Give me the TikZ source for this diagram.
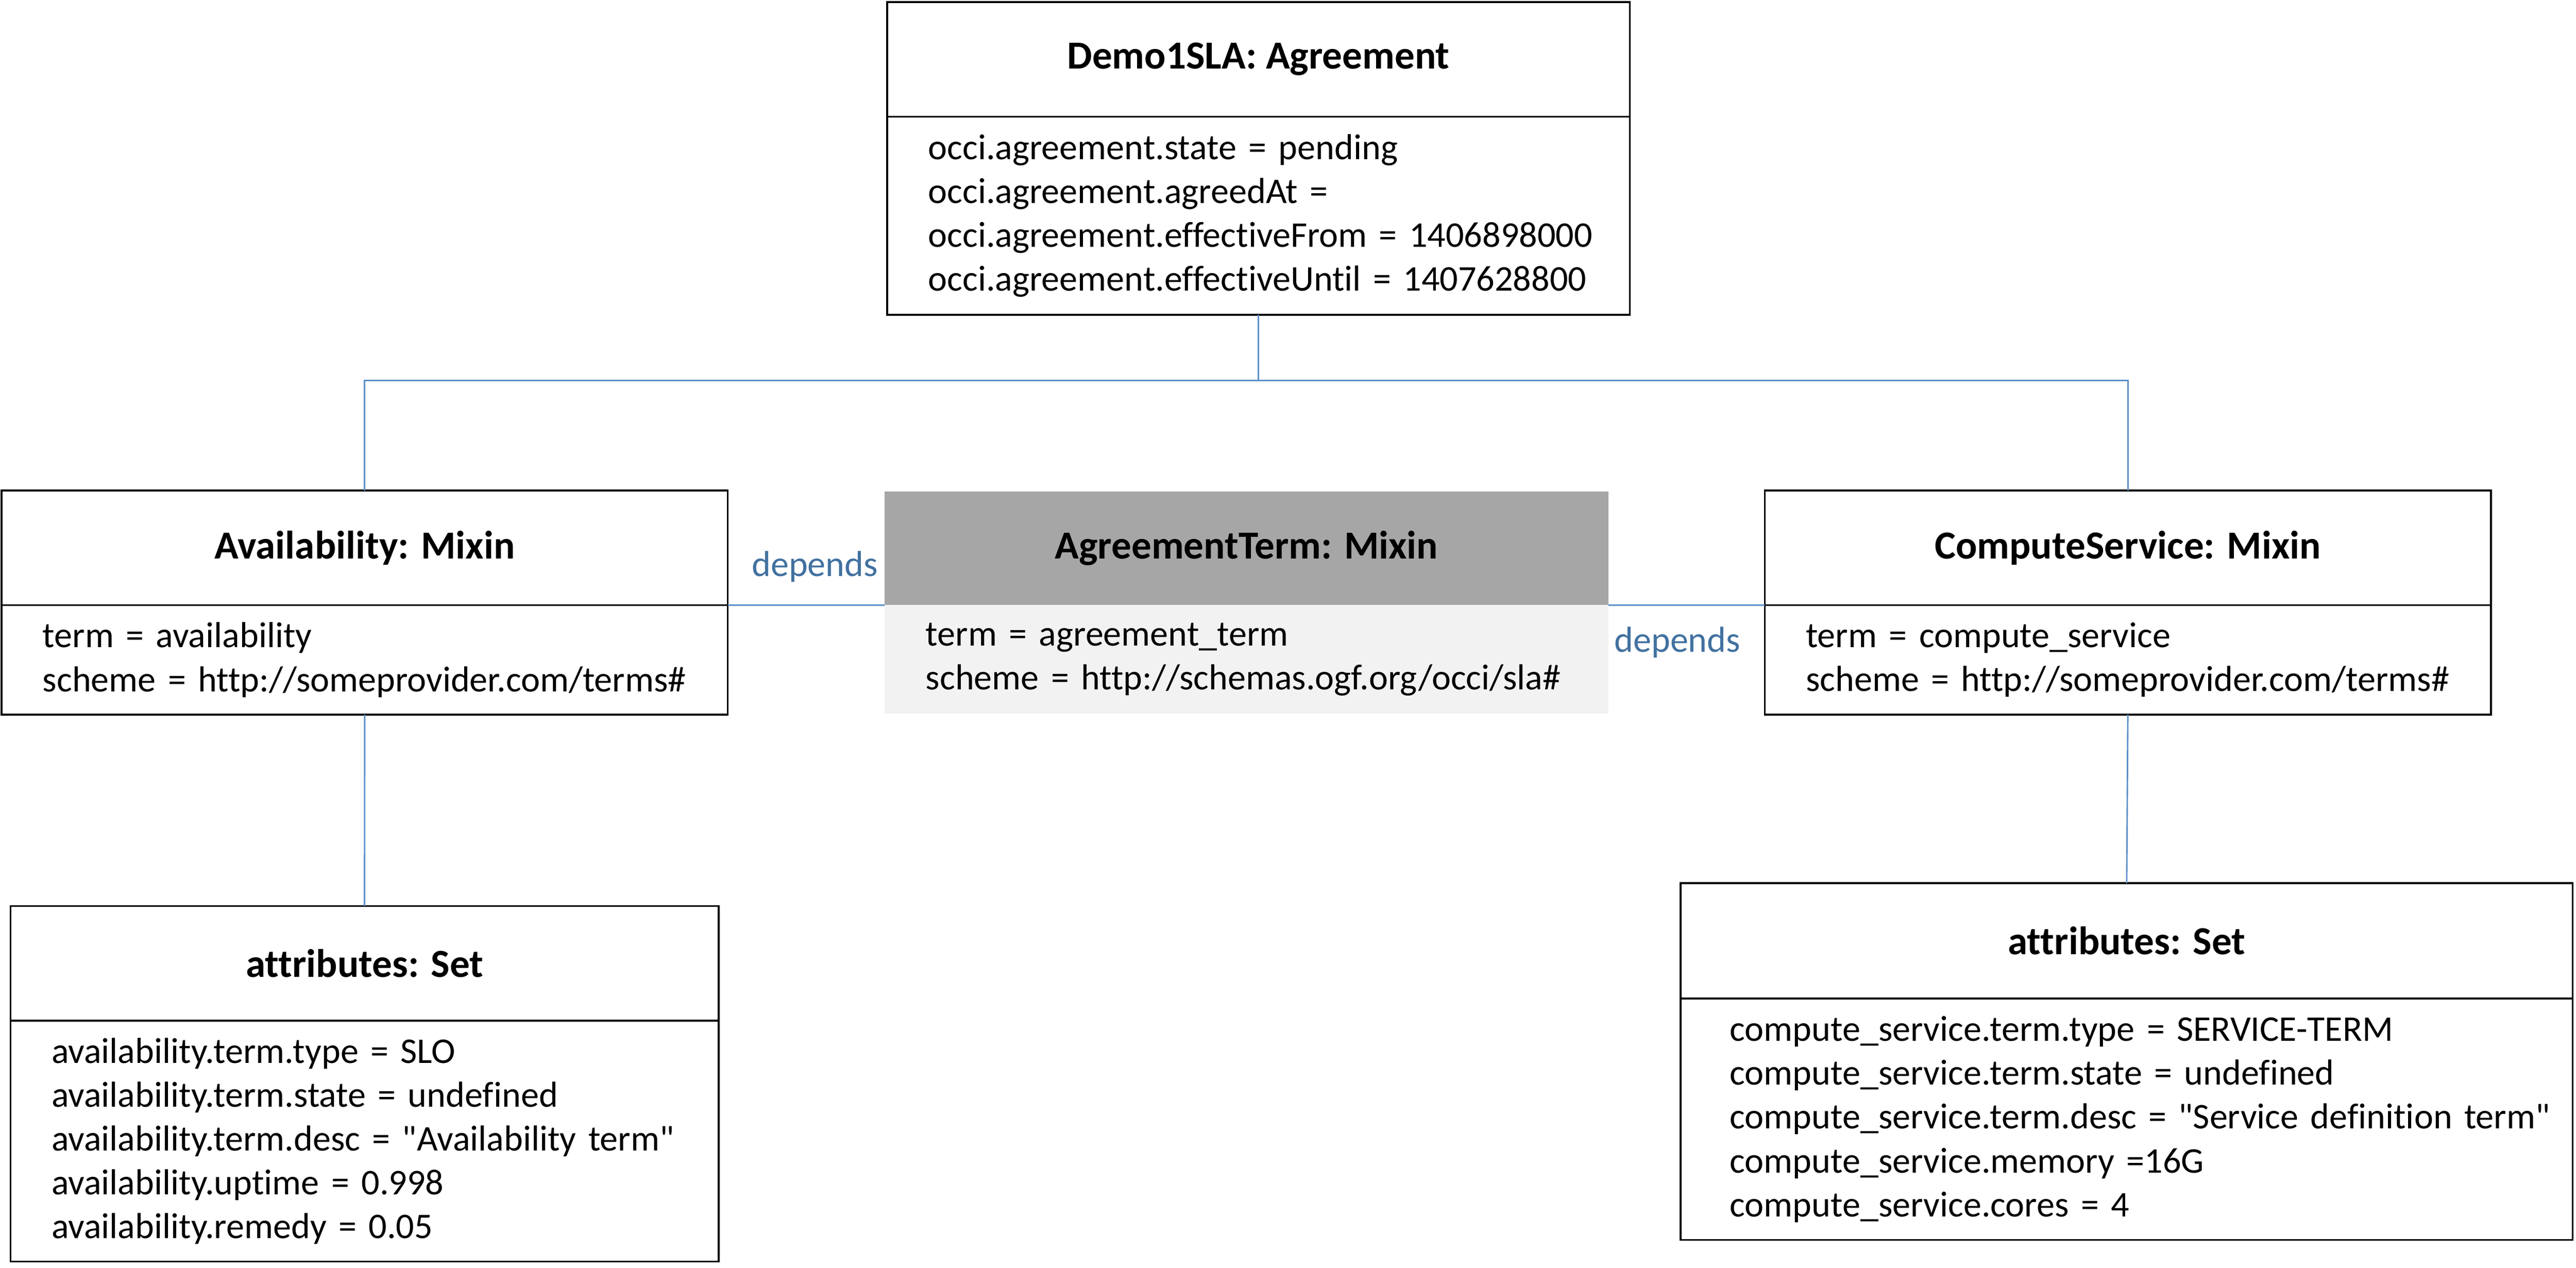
\documentclass[tikz,border=0pt]{standalone}
\usepackage{fontspec}
\setmainfont{Carlito}[Ligatures={TeX,NoCommon}]
\definecolor{linkblue}{RGB}{91,143,201}
\definecolor{labelblue}{RGB}{65,113,160}
\definecolor{termdark}{RGB}{166,166,166}
\definecolor{termlight}{RGB}{242,242,242}
\tikzset{
  every picture/.style={x=1pt,y=-1pt},
  head/.style={draw,line width=1.1pt,inner sep=0pt,outer sep=0pt,anchor=north west,
    font=\fontsize{24.2}{29}\selectfont\bfseries},
  body/.style={draw,line width=1.1pt,inner xsep=25pt,inner ysep=0pt,outer sep=0pt,
    anchor=north,align=left,font=\fontsize{22}{26.7}\selectfont},
  link/.style={draw=linkblue,line width=0.9pt},
  dep/.style={text=labelblue,inner sep=0pt,font=\fontsize{22}{26.7}\selectfont}
}

\begin{document}
\begin{tikzpicture}
  \useasboundingbox (0,0) rectangle (1568,771.6);

  % agreement
  \node[head,minimum width=452pt,minimum height=69.8pt] (agrhead) at (540,1.2) {Demo1SLA: Agreement};
  \node[body,text width=402pt,minimum height=120.6pt] (agrbody) at (agrhead.south) {occi.agreement.state = pending\\
    occi.agreement.agreedAt =\\
    \mbox{occi.agreement.effectiveFrom = 1406898000}\\
    occi.agreement.effectiveUntil = 1407628800};

  % mixins
  \node[head,minimum width=442pt,minimum height=69.8pt] (availhead) at (1,298.5) {Availability: Mixin};
  \node[body,text width=392pt,minimum height=66.7pt] (availbody) at (availhead.south) {term = availability\\
    scheme = http://someprovider.com/terms\#};

  \node[head,draw=none,fill=termdark,minimum width=440.5pt,minimum height=69pt] (termhead) at (538.5,299.3) {AgreementTerm: Mixin};
  \node[body,draw=none,fill=termlight,text width=390.5pt,minimum height=65.9pt] (termbody) at (termhead.south) {term = agreement\_term\\
    scheme = http://schemas.ogf.org/occi/sla\#};

  \node[head,minimum width=442pt,minimum height=69.8pt] (comphead) at (1074.2,298.5) {ComputeService: Mixin};
  \node[body,text width=392pt,minimum height=66.7pt] (compbody) at (comphead.south) {term = compute\_service\\
    scheme = http://someprovider.com/terms\#};

  % attribute sets
  \node[head,minimum width=431pt,minimum height=69.9pt] (availset) at (6.4,551.4) {attributes: Set};
  \node[body,text width=381pt,minimum height=146.5pt] (availsetbody) at (availset.south) {availability.term.type = SLO\\
    availability.term.state = undefined\\
    availability.term.desc = \textquotedbl Availability term\textquotedbl\\
    availability.uptime = 0.998\\
    availability.remedy = 0.05};

  \node[head,minimum width=543pt,minimum height=70.3pt] (compset) at (1023,537.5) {attributes: Set};
  \node[body,inner xsep=30pt,text width=483pt,minimum height=146.9pt] (compsetbody) at (compset.south) {compute\_service.term.type = SERVICE-TERM\\
    compute\_service.term.state = undefined\\
    \mbox{compute\_service.term.desc = \textquotedbl Service definition term\textquotedbl}\\
    compute\_service.memory =16G\\
    compute\_service.cores = 4};

  % connectors
  \coordinate (split) at (766,231.6);
  \draw[link] (agrbody.south) -- (split);
  \draw[link] (split) -| (availhead.north);
  \draw[link] (split) -| (comphead.north);
  \draw[link] (availhead.south east) -- (termhead.south west);
  \draw[link] (termhead.south east) -- (comphead.south west);
  \draw[link] (availbody.south) -- (availset.north);
  \draw[link] (compbody.south) -- (compset.north);

  \node[dep] (depleft) at (496,344.8) {depends};
  \node[dep] (depright) at (1021,391.1) {depends};
\end{tikzpicture}
\end{document}
